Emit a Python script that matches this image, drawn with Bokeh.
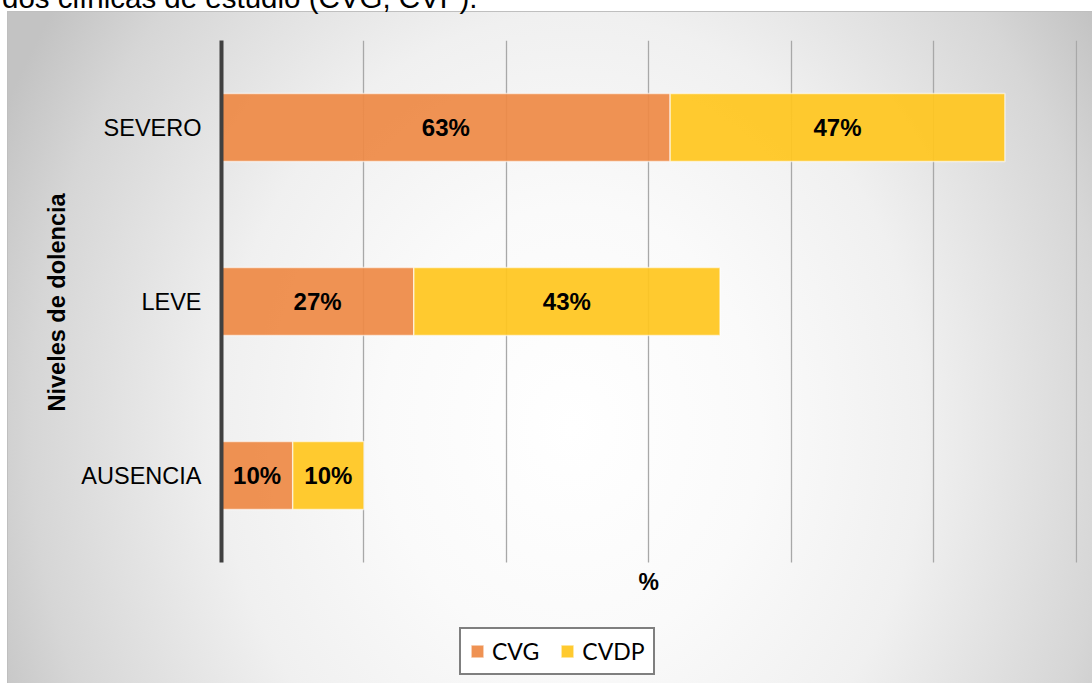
from bokeh.plotting import figure
from bokeh.layouts import column
from bokeh.models import (ColumnDataSource, Range1d, FixedTicker, Legend, LegendItem,
                          Div, Label, Title)
from bokeh.core.properties import value
from bokeh.embed import file_html
from bokeh.resources import INLINE

# ---- data ----
categories = ["AUSENCIA", "LEVE", "SEVERO"]
cvg = [10, 27, 63]
cvdp = [10, 43, 47]
series = ["CVG", "CVDP"]
x_ticks = [0, 20, 40, 60, 80, 100, 120]
caption = "dos clínicas de estudio (CVG, CVP)."
y_title = "Niveles de dolencia"
x_title = "%"

ORANGE = "#EE8A46"
YELLOW = "#FFC61F"

ypos = list(range(len(categories)))
src = ColumnDataSource(dict(y=ypos, CVG=cvg, CVDP=cvdp))

lab_x = [c / 2 for c in cvg] + [c + d / 2 for c, d in zip(cvg, cvdp)]
lab_y = ypos + ypos
lab_t = [f"{v}%" for v in cvg] + [f"{v}%" for v in cvdp]
lab_src = ColumnDataSource(dict(x=lab_x, y=lab_y, t=lab_t))

cat_lo, cat_hi = -0.5, len(categories) - 0.5

bg = ("linear-gradient(#bfbfbf,#bfbfbf) 8px 11px / 1084px 1px no-repeat, "
      "linear-gradient(#bfbfbf,#bfbfbf) 7px 11px / 1px 672px no-repeat, "
      "radial-gradient(ellipse 58% 110% at 52% 62%, #ffffff 0%, #fafafa 30%, #f0f0f0 56%, #d6d6d6 86%, #c3c3c3 100%) 8px 12px / 1084px 671px no-repeat, "
      "#ffffff")

p = figure(
    x_range=Range1d(0, 120.2),
    y_range=Range1d(cat_hi - 3.695, cat_hi),
    width=1092, height=683,
    output_backend="svg", toolbar_location=None,
    min_border_left=221, min_border_right=15, min_border_top=40, min_border_bottom=0,
    styles={"position": "fixed", "top": "0px", "left": "0px", "background": bg},
)
p.background_fill_alpha = 0
p.border_fill_alpha = 0
p.outline_line_color = None

rs = p.hbar_stack(series, y="y", height=0.39, source=src,
                  color=[ORANGE, YELLOW], fill_alpha=0.93,
                  line_color="white", line_alpha=0.6, line_width=1.5)

p.text(x="x", y="y", text="t", source=lab_src,
       text_font=value("Liberation Sans"), text_font_style="bold",
       text_font_size="24px", text_align="center", text_baseline="middle",
       text_color="black")

# y axis (categories)
p.yaxis.ticker = FixedTicker(ticks=ypos)
p.yaxis.major_label_overrides = {i: c for i, c in zip(ypos, categories)}
p.yaxis.bounds = (cat_lo, cat_hi)
p.yaxis.axis_line_color = "#404040"
p.yaxis.axis_line_width = 4
p.yaxis.major_tick_line_color = None
p.yaxis.minor_tick_line_color = None
p.yaxis.major_tick_out = 0
p.yaxis.major_label_text_font = "Liberation Sans"
p.yaxis.major_label_text_font_size = "23.5px"
p.yaxis.major_label_text_color = "black"
p.yaxis.major_label_standoff = 20

# y axis title, placed alongside the category block
p.add_layout(Title(text=y_title, align="left", offset=272,
                   text_font="Liberation Sans", text_font_style="bold",
                   text_font_size="23.5px", text_color="black", standoff=18), "left")

# x axis: only the title is shown, right under the category block
p.xaxis.visible = False
p.add_layout(Label(x=60, y=cat_lo, y_offset=-6, text=x_title,
                   text_font="Liberation Sans", text_font_style="bold",
                   text_font_size="23px", text_color="black",
                   text_align="center", text_baseline="top"))

p.xgrid.ticker = FixedTicker(ticks=x_ticks)
p.xgrid.cross_bounds = (cat_lo, cat_hi)
p.xgrid.grid_line_color = "#a8a8a8"
p.xgrid.grid_line_width = 1.3
p.ygrid.grid_line_color = None

legend = Legend(
    items=[LegendItem(label=s, renderers=[r]) for s, r in zip(series, rs)],
    orientation="horizontal", location=(238, 8),
    border_line_color="black", border_line_width=2.5,
    background_fill_color="white", background_fill_alpha=1,
    label_text_font="Lato", label_text_font_size="23px", label_text_color="black",
    glyph_width=16, glyph_height=16, label_standoff=7, spacing=20,
    padding=8, margin=0,
)
p.add_layout(legend)

cap = Div(text=caption, styles={
    "position": "fixed", "top": "-17px", "left": "2px",
    "font-family": "Liberation Sans", "font-size": "29.5px",
    "line-height": "1", "white-space": "nowrap", "color": "black",
    "margin": "0", "padding": "0",
})

layout = column(p, cap)
open("out.html", "w").write(file_html(layout, INLINE))
